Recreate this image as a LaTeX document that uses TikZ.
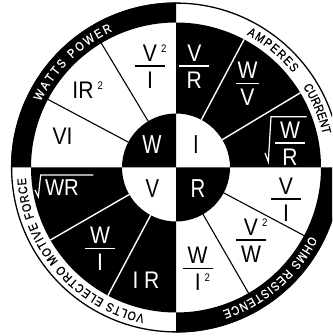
\documentclass[tikz,border=0pt]{standalone}
\usepackage{fontspec}
\setmainfont{Liberation Sans}
\newfontfamily\fracfont[FakeStretch=0.88]{Liberation Sans}
\newfontfamily\centfont[FakeStretch=0.78]{Liberation Sans}
\newfontfamily\ringfont[FakeStretch=0.85,FakeBold=0.6]{Liberation Sans}
\usetikzlibrary{decorations.text}
\setlength{\arrayrulewidth}{1.3pt}
\newcommand{\myfrac}[3][30pt]{{\renewcommand{\arraystretch}{0}%
\begin{tabular}{@{}c@{}}\rule[-4pt]{0pt}{22pt}\makebox[#1]{#2}\\\hline\rule{0pt}{21.5pt}\makebox[#1]{#3}\end{tabular}}}
\newcommand{\sqtwo}{\rlap{\hspace{4pt}\raisebox{8.5pt}{\fontsize{11}{11}\selectfont 2}}}
\begin{document}
\begin{tikzpicture}[x=1pt,y=1pt,
  lbl/.style={inner sep=0pt,font=\fracfont\fontsize{24}{24}\selectfont},
  ctr/.style={inner sep=0pt,font=\centfont\fontsize{26}{26}\selectfont},
  onwhite/.style={text=black},
  onblack/.style={text=white},
  divb/.style={draw=black,line width=1.1pt},
  divw/.style={draw=white,line width=1.4pt},
  radw/.style={draw=white,line width=1.2pt,line join=miter},
  ringtxt/.style={decorate,decoration={text along path,text align={fit to path},text={#1}}}
]
\useasboundingbox (-176,-168.5) rectangle (156,167.5);
\clip (-176,-168.5) rectangle (156,167.5);
\fill[white] (-176,-168.5) rectangle (156,167.5);
% base disc
\fill[white] (0,0) circle[radius=165];
% black ring quadrants
\fill[black] (90:165) arc[start angle=90,end angle=180,radius=165] -- (180:145) arc[start angle=180,end angle=90,radius=145] -- cycle;
\fill[black] (270:165) arc[start angle=270,end angle=360,radius=165] -- (0:145) arc[start angle=0,end angle=-90,radius=145] -- cycle;
% black wedge quadrants
\fill[black] (0:145) arc[start angle=0,end angle=90,radius=145] -- (90:54) arc[start angle=90,end angle=0,radius=54] -- cycle;
\fill[black] (180:145) arc[start angle=180,end angle=270,radius=145] -- (270:54) arc[start angle=270,end angle=180,radius=54] -- cycle;
% black inner quadrants
\fill[black] (0,0) -- (90:54) arc[start angle=90,end angle=180,radius=54] -- cycle;
\fill[black] (0,0) -- (270:54) arc[start angle=270,end angle=360,radius=54] -- cycle;
% outline
\draw[black,line width=1.3pt] (0,0) circle[radius=164.4];
% dividers
\draw[divb] (121:54) -- (121:145);
\draw[divb] (152:54) -- (152:145);
\draw[divw] (31:54) -- (31:145);
\draw[divw] (62:54) -- (62:145);
\draw[divb] (-28:54) -- (-28:145);
\draw[divb] (-60:54) -- (-60:145);
\draw[divw] (210:54) -- (210:145);
\draw[divw] (242:54) -- (242:145);
% ring texts
\path[ringtxt={|\ringfont\fontsize{12.5}{12.5}\selectfont\color{white}|WATTS POWER}] (154:150.5) arc[start angle=154,end angle=115,radius=150.5];
\path[ringtxt={|\ringfont\fontsize{12.5}{12.5}\selectfont\color{black}|AMPERES}] (62:150.5) arc[start angle=62,end angle=39,radius=150.5];
\path[ringtxt={|\ringfont\fontsize{12.5}{12.5}\selectfont\color{black}|CURRENT}] (32.5:150.5) arc[start angle=32.5,end angle=13.5,radius=150.5];
\path[ringtxt={|\ringfont\fontsize{12.5}{12.5}\selectfont\color{white}|OHMS RESISTENCE}] (-27:150.5) arc[start angle=-27,end angle=-72,radius=150.5];
\path[ringtxt={|\ringfont\fontsize{12.5}{12.5}\selectfont\color{black}|VOLTS ELECTRO MOTIVE FORCE}] (258:150.5) arc[start angle=258,end angle=184,radius=150.5];
% centre letters
\node[ctr,onblack] (cW) at (-24,22.5) {W};
\node[ctr,onwhite] (cI) at (20,22.5) {I};
\node[ctr,onwhite] (cV) at (-23.5,-21.5) {V};
\node[ctr,onblack] (cR) at (22,-21.5) {R};
% watts
\node[lbl,onwhite] (v2i) at (-26,101.8) {\myfrac{V\sqtwo}{I}};
\node[lbl,onwhite] (ir2) at (-93,77.5) {IR\sqtwo};
\node[lbl,onwhite] (vi) at (-113.5,30.8) {VI};
% amperes
\node[lbl,onblack] (vr) at (18.3,101.8) {\myfrac{V}{R}};
\node[lbl,onblack] (wv) at (71.5,84.2) {\myfrac[23pt]{W}{V}};
\node[lbl,onblack] (wr) at (114,24.8) {\myfrac{W}{R}};
\draw[radw] (89,14.5) -- (92.3,5.8) -- (95,50.8) -- (130.7,50.8);
% ohms
\node[lbl,onwhite] (vi2) at (110,-31.2) {\myfrac{V}{I}};
\node[lbl,onwhite] (v2w) at (75,-72.2) {\myfrac{V\sqtwo}{W}};
\node[lbl,onwhite] (wi2) at (21.7,-100.5) {\myfrac{W}{I\sqtwo}};
% volts
\node[lbl,onblack,font=\fracfont\fontsize{23}{23}\selectfont] (swr) at (-114,-20.5) {WR};
\draw[radw] (-141,-22.5) -- (-137.7,-29.2) -- (-135.3,-7.5) -- (-82.7,-7.5);
\node[lbl,onblack] (wi) at (-76,-80.5) {\myfrac{W}{I}};
\node[lbl,onblack] (ir) at (-30,-113) {I R};
\end{tikzpicture}
\end{document}
